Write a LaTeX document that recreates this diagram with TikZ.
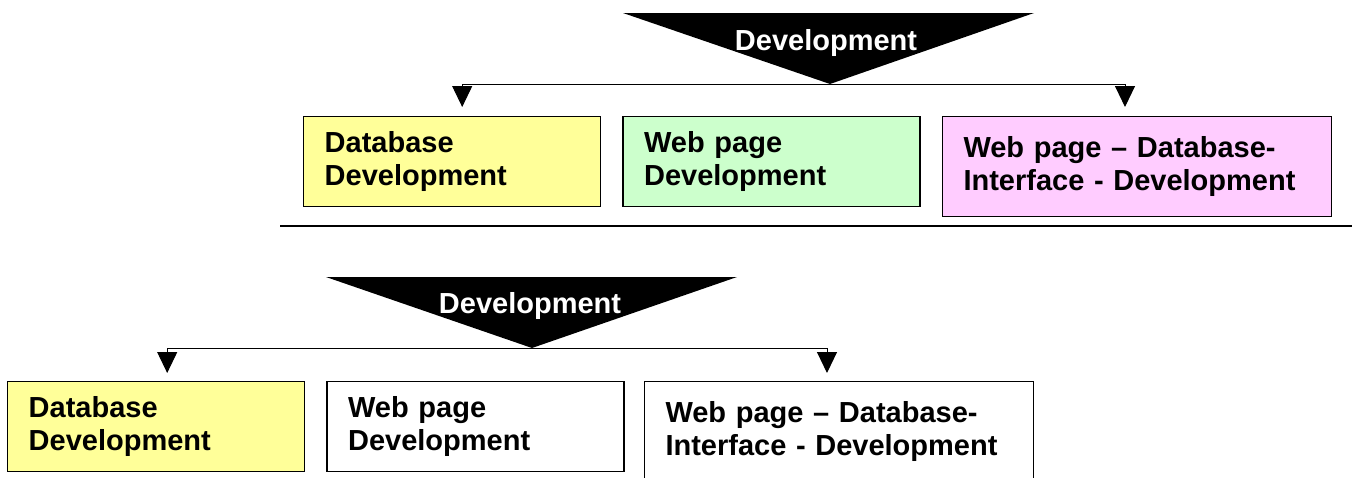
\documentclass[tikz,border=0pt]{standalone}
\usepackage{fontspec}
\setmainfont{Liberation Sans}
\usetikzlibrary{positioning,arrows.meta}

\definecolor{dbyellow}{HTML}{FFFF99}
\definecolor{webgreen}{HTML}{CCFFCC}
\definecolor{ifpink}{HTML}{FFCCFF}

\begin{document}
\begin{tikzpicture}[x=1pt,y=-1pt]
    \tikzset{task/.style = {draw, line width=1.4pt, anchor=north west, minimum height=90pt,
                            align=left, inner xsep=21pt, inner ysep=0pt,
                            font=\fontsize{29}{33}\selectfont\bfseries},
             narrow/.style = {task, text width=255pt},
             wide/.style = {task, text width=347pt, minimum height=100pt},
             devlabel/.style = {anchor=base, text=white, inner sep=0pt,
                                font=\fontsize{29}{33}\selectfont\bfseries},
             link/.style = {line width=1pt, -{Triangle[width=20pt,length=21pt]}}}
    \useasboundingbox (0,0) rectangle (1358,477);
    %% upper part
    \fill (623,13) -- (1034,13) -- (830,84) -- cycle;
    \coordinate (ttip) at (830,84);
    \node[devlabel] (tdev) at (826,50) {Development};
    \node[narrow, fill=dbyellow] (tdb) at (303,116) {Database\\Development};
    \node[narrow, fill=webgreen] (tweb) [right = 21pt of tdb] {Web page\\Development};
    \node[wide, fill=ifpink] (tif) [right = 21pt of tweb.north east, anchor=north west] {Web page -- Database-\\Interface - Development};
    \path[link]
    %from tip     to just above the box
    (ttip) edge[to path={-| (\tikztotarget)}] ([xshift=10pt,yshift=9pt]tdb.north)
    (ttip) edge[to path={-| (\tikztotarget)}] ([xshift=-12pt,yshift=9pt]tif.north)
    ;
    \coordinate (rl) at (280,226);
    \coordinate (rr) at (1352,226);
    \draw[line width=2pt] (rl) -- (rr);
    %%
    %% lower part
    \fill (326,277) -- (737,277) -- (532,348) -- cycle;
    \coordinate (btip) at (532,348);
    \node[devlabel] (bdev) at (530,313) {Development};
    \node[narrow, fill=dbyellow] (bdb) at (7,381) {Database\\Development};
    \node[narrow] (bweb) [right = 21pt of bdb] {Web page\\Development};
    \node[wide] (bif) [right = 19pt of bweb.north east, anchor=north west] {Web page -- Database-\\Interface - Development};
    \path[link]
    (btip) edge[to path={-| (\tikztotarget)}] ([xshift=11pt,yshift=8pt]bdb.north)
    (btip) edge[to path={-| (\tikztotarget)}] ([xshift=-12pt,yshift=8pt]bif.north)
    ;
\end{tikzpicture}
\end{document}
